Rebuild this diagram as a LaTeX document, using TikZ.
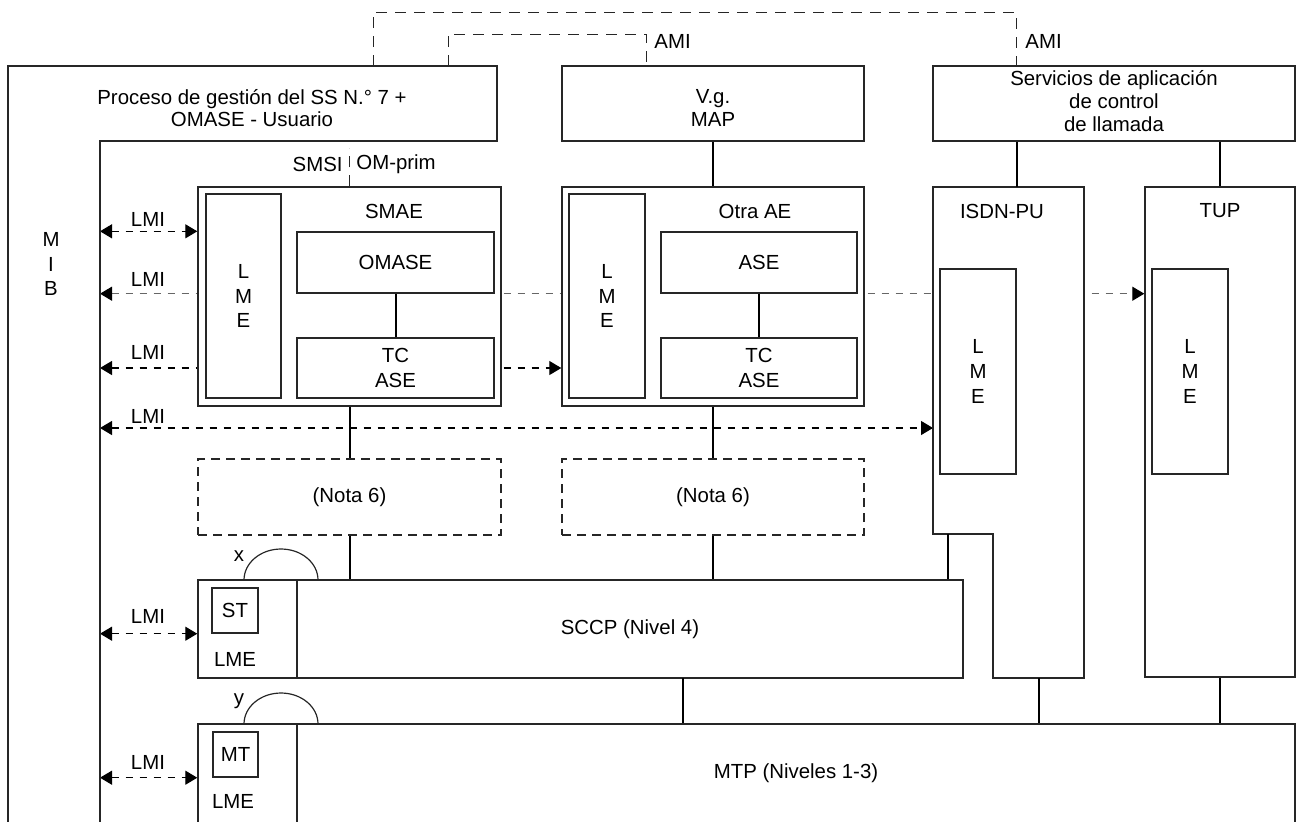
\documentclass[tikz,border=0pt]{standalone}
\usepackage{fontspec}
\setmainfont{Liberation Sans}
\usepackage{tikz}
\usetikzlibrary{arrows.meta, backgrounds, positioning}

\begin{document}
\begin{tikzpicture}[
    x=0.5pt, y=-0.5pt,
    font=\fontsize{10.2}{11.2}\selectfont,
    box/.style   = {draw=black!85, line width=0.7pt, fill=white, inner sep=0pt},
    nota/.style  = {draw=black!85, line width=0.6pt, dash pattern=on 4.5pt off 3pt,
                    inner sep=0pt},
    link/.style  = {line width=1pt},
    frame/.style = {draw=black!85, line width=0.6pt},
    lmi/.style   = {dash pattern=on 3.5pt off 3.5pt, line width=0.6pt,
                    {Triangle[length=6pt,width=7pt,black]}-{Triangle[length=6pt,width=7pt,black]}},
    ami/.style   = {draw=black!85, dash pattern=on 5.5pt off 4pt, line width=0.5pt},
    stack/.style = {align=center, font=\fontsize{10.2}{12.3}\selectfont},
    txt/.style   = {inner sep=0pt}
  ]
  \useasboundingbox (0,0) rectangle (1296,821);

  % ----------------------------------------------------------------
  % Management process frame (left and top)
  % ----------------------------------------------------------------
  \draw[frame] (8,840) -- (8,66) -- (497,66) -- (497,141) -- (100,141) -- (100,840);
  \node[align=center] (proc) at (252,108)
        {Proceso de gestión del SS N.° 7 +\\OMASE - Usuario};
  \coordinate (mib) at (100,0);
  \node[stack] (mibtxt) at (51,264) {M\\I\\B};

  % ----------------------------------------------------------------
  % Upper application boxes
  % ----------------------------------------------------------------
  \node[box, minimum width=151pt, minimum height=37.5pt] (vgmap) at (713,103.5) {};
  \node[align=center] (vgmaptxt) at (713,108) {V.g.\\MAP};
  \node[box, minimum width=181pt, minimum height=37.5pt] (serv) at (1114,103.5) {};
  \node[align=center, font=\fontsize{10.2}{11.6}\selectfont] (servtxt) at (1114,101)
        {Servicios de aplicación\\de control\\de llamada};

  % AMI dashed links from the frame top
  \coordinate (amiO) at (373,66);
  \coordinate (amiI) at (448,66);
  \draw[ami] (amiO) |- (1016,12) -- (1016,12 |- serv.north);
  \draw[ami] (amiI) |- (646,34) -- (646,34 |- vgmap.north);
  \node[txt, anchor=west] (amiL) at (654,41) {AMI};
  \node[txt, anchor=west] (amiR) at (1025,41) {AMI};

  % ----------------------------------------------------------------
  % SMAE
  % ----------------------------------------------------------------
  \node[box, minimum width=151.5pt, minimum height=109.5pt] (smae) at (349.5,296.5) {};
  \node[box, stack, minimum width=37.5pt, minimum height=102pt] (smaelme)
        at (243.5,296) {L\\M\\E};
  \node[txt] (smaelbl) at (394,211) {SMAE};
  \node[box, minimum width=98.5pt, minimum height=30.5pt] (omase) at (395.5,262.5) {OMASE};
  \node[box, stack, minimum width=98.5pt, minimum height=30pt] (smaetc)
        at (395.5,368) {TC\\ASE};

  \draw[ami] (smae.north) -- ++(0,-38);
  \node[txt, anchor=east] (smsi) at (343,164) {SMSI};
  \node[txt, anchor=west] (omprim) at (356,164) {OM-prim};

  % ----------------------------------------------------------------
  % Otra AE
  % ----------------------------------------------------------------
  \node[box, minimum width=151pt, minimum height=109.5pt] (otra) at (713,296.5) {};
  \node[box, stack, minimum width=38pt, minimum height=102pt] (otralme)
        at (607,296) {L\\M\\E};
  \node[txt] (otralbl) at (755,211) {Otra AE};
  \node[box, minimum width=98pt, minimum height=30.5pt] (ase) at (759,262.5) {ASE};
  \node[box, stack, minimum width=98pt, minimum height=30pt] (otratc)
        at (759,368) {TC\\ASE};

  % Nota 6 boxes
  \node[nota, minimum width=151.5pt, minimum height=38pt] (notaA) at (349.5,497) {(Nota 6)};
  \node[nota, minimum width=151pt, minimum height=38pt] (notaB) at (713,497) {(Nota 6)};

  % ----------------------------------------------------------------
  % ISDN-PU and TUP
  % ----------------------------------------------------------------
  \coordinate (isdnnw) at (933,187);
  \draw[box] (isdnnw) -- (1084,187) -- (1084,678) -- (993,678) -- (993,534)
             -- (933,534) -- cycle;
  \node[txt] (isdnlbl) at (1002,211) {ISDN-PU};
  \node[box, stack, minimum width=38pt, minimum height=102.5pt] (isdnlme)
        at (978,371.5) {L\\M\\E};

  \node[box, minimum width=75pt, minimum height=245pt] (tup) at (1220,432) {};
  \node[txt] (tuplbl) at (1220,211) {TUP};
  \node[box, stack, minimum width=38pt, minimum height=102.5pt] (tuplme)
        at (1190,371.5) {L\\M\\E};

  % ----------------------------------------------------------------
  % SCCP and MTP
  % ----------------------------------------------------------------
  \node[box, minimum width=382.5pt, minimum height=49pt] (sccp) at (580.5,629) {};
  \draw[frame] (297,580) -- (297,678);
  \node[box, minimum width=23pt, minimum height=22.5pt] (st) at (235,610.5) {ST};
  \node[txt] (sccplme) at (235,659) {LME};
  \node[txt] (sccptxt) at (630,629) {SCCP (Nivel 4)};

  \node[box, minimum width=548.5pt, minimum height=63pt] (mtp) at (746.5,787) {};
  \draw[frame] (297,724) -- (297,850);
  \node[box, minimum width=22.5pt, minimum height=22.5pt] (mt) at (235.5,754.5) {MT};
  \node[txt] (mtplme) at (233,801) {LME};
  \node[txt] (mtptxt) at (796,773) {MTP (Niveles 1-3)};

  % x / y arcs on the LME parts
  \draw[frame] (244,580) arc[start angle=180, end angle=0, x radius=18.5pt, y radius=15.5pt];
  \node[txt] (xlbl) at (239,556) {x};
  \draw[frame] (244,724) arc[start angle=180, end angle=0, x radius=18.5pt, y radius=15.5pt];
  \node[txt] (ylbl) at (239,701) {y};

  % ----------------------------------------------------------------
  % Solid connectors
  % ----------------------------------------------------------------
  \draw[link] (vgmap.south) -- (otra.north);
  \draw[link] (omase.south) -- (smaetc.north);
  \draw[link] (ase.south) -- (otratc.north);
  \draw[link] (smae.south) -- (notaA.north);
  \draw[link] (otra.south) -- (notaB.north);
  \draw[link] (notaA.south) -- (notaA.south |- sccp.north);
  \draw[link] (notaB.south) -- (notaB.south |- sccp.north);
  \draw[link] (serv.south -| isdnlme.east) -- (isdnlme.east |- isdnnw);
  \draw[link] (serv.south -| tup.north) -- (tup.north);
  \coordinate (isdnsc) at (948,534);
  \draw[link] (isdnsc) -- (isdnsc |- sccp.north);
  \coordinate (sccpmt) at (683,678);
  \draw[link] (sccpmt) -- (sccpmt |- mtp.north);
  \coordinate (isdnmt) at (1039,678);
  \draw[link] (isdnmt) -- (isdnmt |- mtp.north);
  \draw[link] (tup.south) -- (tup.south |- mtp.north);

  % ----------------------------------------------------------------
  % LMI dashed arrows (behind the boxes)
  % ----------------------------------------------------------------
  \coordinate (r4) at (100,428);
  \begin{scope}[on background layer]
    \draw[lmi] (omase.north -| mib) -- (omase.north -| smae.west);
    \draw[lmi, black!60] (omase.south -| mib) -- (omase.south -| tup.west);
    \draw[lmi] (smaetc -| mib) -- (smaetc -| otra.west);
    \draw[lmi] (r4) -- (r4 -| isdnnw);
    \draw[lmi] (st.south -| mib) -- (st.south -| sccp.west);
    \draw[lmi] (mt.south -| mib) -- (mt.south -| mtp.west);
  \end{scope}
  \foreach \i/\yy in {1/219, 2/279, 3/352, 4/416, 5/616, 6/762}{
    \node[txt] (lmi\i) at (148,\yy) {LMI};
  }

\end{tikzpicture}
\end{document}
